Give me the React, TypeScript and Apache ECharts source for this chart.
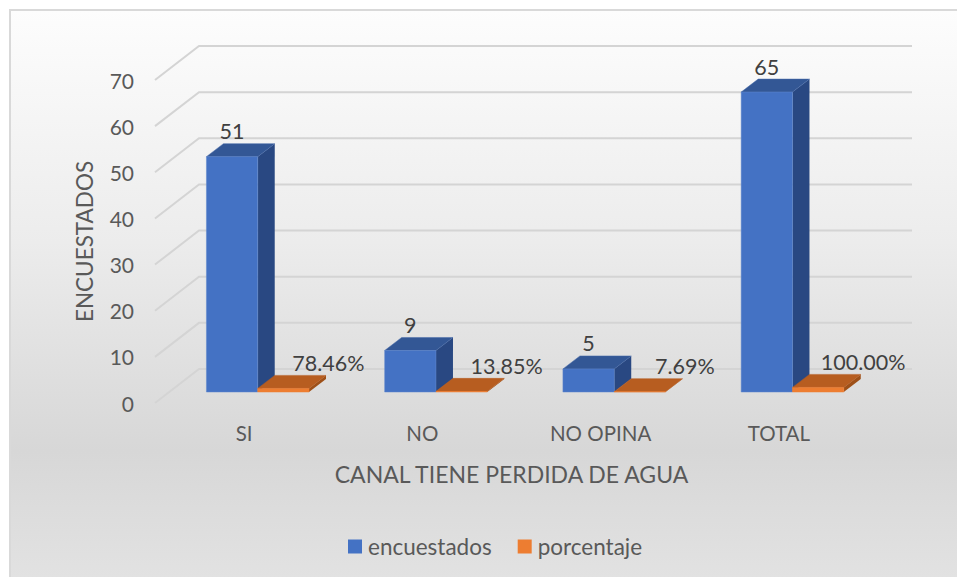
import React, { useEffect, useRef } from "react";
import * as echarts from "echarts";

const categories = ["SI", "NO", "NO OPINA", "TOTAL"];
const encuestados = [51, 9, 5, 65];
const porcentaje = [0.7846, 0.1385, 0.0769, 1];
const porcentajeLabels = ["78.46%", "13.85%", "7.69%", "100.00%"];
const yTicks = [0, 10, 20, 30, 40, 50, 60, 70];

const FONT = "Lato, Carlito, sans-serif";
const TEXT = "#595959";
const BAR_RATIO = 51.3 / 178.25;
// front plane of the floor -> bar front face
const OFF_X = 13.6;
const OFF_Y = -11;
// bar depth
const DEP_X = 17;
const DEP_Y = -13;
// whole floor depth
const WALL_X = 44;
const WALL_Y = -34;

function barRender(values: number[], labels: string[] | null, side: -1 | 1, colors: string[], labelDx: number) {
  return (params: any, api: any) => {
    const i = params.dataIndex;
    const idx = api.value(0);
    const top = api.coord([idx, api.value(1)]);
    const base = api.coord([idx, 0]);
    const w = api.size([1, 0])[0] * BAR_RATIO;
    const x0 = top[0] + OFF_X + (side < 0 ? -w : 0);
    const x1 = x0 + w;
    const yT = top[1] + OFF_Y;
    const yB = base[1] + OFF_Y;
    const [front, topC, sideC] = colors;
    const edge = side < 0 ? "#5f86cc" : front;
    return {
      type: "group",
      children: [
        {
          type: "polygon",
          shape: { points: [[x1, yT], [x1 + DEP_X, yT + DEP_Y], [x1 + DEP_X, yB + DEP_Y], [x1, yB]] },
          style: { fill: sideC },
        },
        {
          type: "polygon",
          shape: { points: [[x0, yT], [x0 + DEP_X, yT + DEP_Y], [x1 + DEP_X, yT + DEP_Y], [x1, yT]] },
          style: { fill: topC, stroke: side < 0 ? "#4468a8" : topC, lineWidth: 0.5 },
        },
        {
          type: "rect",
          shape: { x: x0, y: yT, width: w, height: yB - yT },
          style: { fill: front, stroke: edge, lineWidth: 0.5 },
        },
        {
          type: "text",
          x: (x0 + x1) / 2 + labelDx,
          y: yT - 25.5,
          style: {
            text: labels ? labels[i] : String(values[i]),
            fill: "#404040",
            font: `21.5px ${FONT}`,
            align: "center",
            verticalAlign: "middle",
          },
        },
      ],
    };
  };
}

function wallRender(params: any, api: any) {
  const cs = params.coordSys;
  const y = api.coord([0, api.value(1)])[1];
  return {
    type: "polyline",
    shape: {
      points: [
        [cs.x, y],
        [cs.x + WALL_X, y + WALL_Y],
        [cs.x + WALL_X + cs.width, y + WALL_Y],
      ],
    },
    style: { fill: "none", stroke: "#d4d4d4", lineWidth: 2 },
  };
}

export default function App() {
  const ref = useRef<HTMLDivElement>(null);
  useEffect(() => {
    document.body.style.margin = "0";
    const chart = echarts.init(ref.current!, null, { renderer: "svg" });
    chart.setOption({
      animation: false,
      backgroundColor: "#ffffff",
      graphic: [
        {
          type: "rect",
          z: -10,
          silent: true,
          shape: { x: 10, y: 10, width: 960, height: 580 },
          style: {
            fill: new echarts.graphic.LinearGradient(0, 0, 0, 1, [
              { offset: 0, color: "#fdfdfd" },
              { offset: 0.4, color: "#ececec" },
              { offset: 0.76, color: "#d7d7d7" },
              { offset: 1, color: "#e3e3e3" },
            ]),
            stroke: "#d9d9d9",
            lineWidth: 2,
          },
        },
      ],
      grid: { left: 155, top: 80, width: 713, height: 323 },
      legend: {
        left: 343,
        top: 530,
        itemWidth: 14,
        itemHeight: 14,
        itemGap: 26,
        icon: "rect",
        data: ["encuestados", "porcentaje"],
        textStyle: { color: TEXT, fontFamily: FONT, fontSize: 22.5, padding: [0, 0, 0, 1] },
      },
      xAxis: {
        type: "category",
        data: categories,
        name: "CANAL TIENE PERDIDA DE AGUA",
        nameLocation: "center",
        nameGap: 59,
        nameTextStyle: { color: TEXT, fontFamily: FONT, fontSize: 23 },
        axisLine: { show: false },
        axisTick: { show: false },
        axisLabel: { color: TEXT, fontFamily: FONT, fontSize: 20.5, margin: 19 },
      },
      yAxis: {
        type: "value",
        min: 0,
        max: 70,
        interval: 10,
        name: "ENCUESTADOS",
        nameLocation: "center",
        nameGap: 59,
        nameTextStyle: { color: TEXT, fontFamily: FONT, fontSize: 22.5 },
        axisLine: { show: false },
        axisTick: { show: false },
        splitLine: { show: false },
        axisLabel: { color: TEXT, fontFamily: FONT, fontSize: 21, margin: 21 },
      },
      series: [
        {
          type: "custom",
          coordinateSystem: "cartesian2d",
          silent: true,
          z: 1,
          data: yTicks.map((t) => [0, t]),
          renderItem: wallRender,
        },
        {
          type: "custom",
          name: "encuestados",
          coordinateSystem: "cartesian2d",
          z: 2,
          itemStyle: { color: "#4472C4" },
          data: encuestados.map((v, i) => [i, v]),
          renderItem: barRender(encuestados, null, -1, ["#4472C4", "#335795", "#294882"], 0),
        },
        {
          type: "custom",
          name: "porcentaje",
          coordinateSystem: "cartesian2d",
          z: 3,
          itemStyle: { color: "#ED7D31" },
          data: porcentaje.map((v, i) => [i, v]),
          renderItem: barRender(porcentaje, porcentajeLabels, 1, ["#ED7D31", "#B75D20", "#9E5018"], 45),
        },
      ],
    });
    return () => chart.dispose();
  }, []);
  return <div ref={ref} style={{ width: 957, height: 577 }} />;
}
